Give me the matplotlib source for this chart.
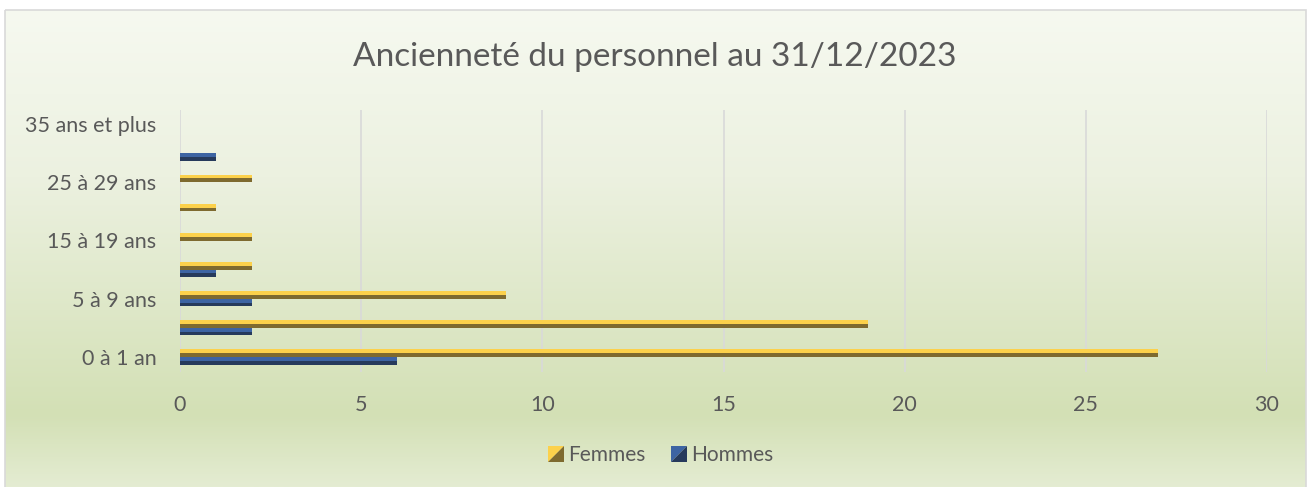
import numpy as np
import matplotlib
matplotlib.use('Agg')
import matplotlib.pyplot as plt
from matplotlib.patches import Rectangle, Polygon
from matplotlib.legend_handler import HandlerBase
from matplotlib.colors import LinearSegmentedColormap

categories = ["0 à 1 an", "2 à 4 ans", "5 à 9 ans", "10 à 14 ans", "15 à 19 ans",
              "20 à 24 ans", "25 à 29 ans", "30 à 34 ans", "35 ans et plus"]
femmes = [27, 19, 9, 2, 2, 1, 2, 0, 0]
hommes = [6, 2, 2, 1, 0, 0, 0, 1, 0]
x_ticks = [0, 5, 10, 15, 20, 25, 30]
title = "Ancienneté du personnel au 31/12/2023"
series_names = ["Femmes", "Hommes"]

FEM_LIGHT, FEM_DARK = "#fcd14b", "#7e6a2f"
HOM_LIGHT, HOM_DARK = "#3d64a3", "#263a5c"
TXT = "#595959"
FONT = "Lato"

W, H = 1309, 487
fig = plt.figure(figsize=(W / 100, H / 100), dpi=100)

# background with gradient and frame
bg = fig.add_axes([0, 0, 1, 1], zorder=-10)
bg.set_xlim(0, W)
bg.set_ylim(H, 0)
bg.axis('off')
cmap = LinearSegmentedColormap.from_list(
    "bg", [(0.0, "#f6f9f0"), (0.35, "#ecf1e0"), (0.85, "#d3e0b5"), (1.0, "#e4ecd2")])
grad = np.linspace(0, 1, 256).reshape(-1, 1)
bg.imshow(grad, cmap=cmap, aspect='auto', extent=(5, 1306, 487, 10), zorder=0)
bg.add_patch(Rectangle((5, 10), 1301, 500, fill=False, edgecolor="#d9d9d9", lw=1.2, zorder=1))

# main axes
left, right, top, bottom = 180, 1267, 109.5, 371.5
ax = fig.add_axes([left / W, 1 - bottom / H, (right - left) / W, (bottom - top) / H])
ax.patch.set_alpha(0)

y = np.arange(len(categories))
bh = 0.26
# Femmes (upper bar), split into light top half and dark bottom half
ax.barh(y + bh * 0.75, femmes, height=bh / 2, color=FEM_LIGHT, zorder=3)
ax.barh(y + bh * 0.25, femmes, height=bh / 2, color=FEM_DARK, zorder=3)
# Hommes (lower bar)
ax.barh(y - bh * 0.25, hommes, height=bh / 2, color=HOM_LIGHT, zorder=3)
ax.barh(y - bh * 0.75, hommes, height=bh / 2, color=HOM_DARK, zorder=3)

ax.set_xlim(0, 30)
ax.set_ylim(-0.5, len(categories) - 0.5)
ax.set_xticks(x_ticks)
ax.set_xticklabels([str(t) for t in x_ticks])
ax.set_yticks(y)
ax.set_yticklabels([c if i % 2 == 0 else "" for i, c in enumerate(categories)])
ax.tick_params(axis='both', length=0, labelsize=15.5, labelcolor=TXT)
ax.tick_params(axis='y', pad=17)
ax.tick_params(axis='x', pad=17)
for lab in ax.get_xticklabels() + ax.get_yticklabels():
    lab.set_fontfamily(FONT)
for s in ax.spines.values():
    s.set_visible(False)
ax.xaxis.grid(True, color="#d9d9d9", lw=1.2, zorder=0)
ax.set_axisbelow(True)

fig.text(655 / W, 1 - 57 / H, title, ha='center', va='center', fontsize=24,
         color=TXT, fontfamily=FONT, fontweight='normal')


class SplitSquare(HandlerBase):
    def __init__(self, light, dark):
        super().__init__()
        self.light, self.dark = light, dark

    def create_artists(self, legend, orig_handle, xdescent, ydescent, width, height, fontsize, trans):
        s = height
        x0 = -xdescent + (width - s)
        y0 = -ydescent
        p1 = Polygon([[x0, y0], [x0, y0 + s], [x0 + s, y0 + s]], closed=True,
                     facecolor=self.light, edgecolor='none', transform=trans)
        p2 = Polygon([[x0, y0], [x0 + s, y0], [x0 + s, y0 + s]], closed=True,
                     facecolor=self.dark, edgecolor='none', transform=trans)
        return [p1, p2]


h1 = Rectangle((0, 0), 1, 1)
h2 = Rectangle((0, 1), 1, 1)
leg = fig.legend([h1, h2], series_names, loc='center', bbox_to_anchor=(660 / W, 1 - 455 / H),
                 ncol=2, frameon=False, handler_map={h1: SplitSquare(FEM_LIGHT, FEM_DARK),
                                                     h2: SplitSquare(HOM_LIGHT, HOM_DARK)},
                 prop={'family': FONT, 'size': 15}, handlelength=0.8, handleheight=0.8,
                 handletextpad=0.2, columnspacing=1.2)
for t in leg.get_texts():
    t.set_color(TXT)

fig.savefig("out.png", dpi=100)
